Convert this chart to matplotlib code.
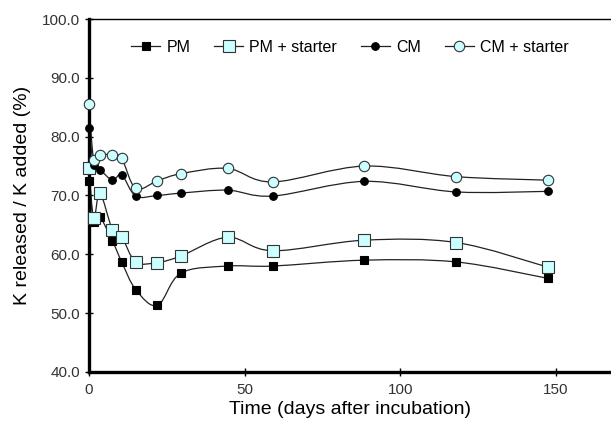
"""K release over incubation time for PM / CM with and without starter."""

import matplotlib

matplotlib.use("Agg")
import matplotlib.pyplot as plt
from matplotlib.lines import Line2D
from matplotlib.patches import PathPatch
from matplotlib.path import Path

plt.rcParams["font.family"] = ["Liberation Sans", "DejaVu Sans"]

DAYS = [0, 1.5, 3.5, 7.5, 10.5, 15, 22, 29.5, 44.5, 59, 88.5, 118, 147.5]
PM = [72.4, 65.5, 66.3, 62.3, 58.7, 54.0, 51.3, 56.8, 58.0, 58.0, 59.0, 58.7, 55.9]
PM_STARTER = [74.6, 66.1, 70.4, 64.2, 63.0, 58.7, 58.6, 59.7, 62.9, 60.6, 62.4, 62.0, 57.8]
CM = [81.4, 75.1, 74.4, 72.6, 73.5, 69.9, 70.0, 70.4, 70.9, 69.9, 72.4, 70.6, 70.7]
CM_STARTER = [85.6, 76.0, 76.9, 76.9, 76.3, 71.2, 72.5, 73.7, 74.6, 72.3, 75.0, 73.2, 72.6]

LIGHT = "#ccffff"
EDGE = "#333333"


def smooth_path(x, y):
    # Catmull-Rom style bezier, like a spreadsheet "smoothed line"
    pts = list(zip(x, y))
    verts = [pts[0]]
    codes = [Path.MOVETO]
    n = len(pts)
    for i in range(n - 1):
        p0 = pts[max(i - 1, 0)]
        p1 = pts[i]
        p2 = pts[i + 1]
        p3 = pts[min(i + 2, n - 1)]
        c1 = (p1[0] + (p2[0] - p0[0]) / 6, p1[1] + (p2[1] - p0[1]) / 6)
        c2 = (p2[0] - (p3[0] - p1[0]) / 6, p2[1] - (p3[1] - p1[1]) / 6)
        verts += [c1, c2, p2]
        codes += [Path.CURVE4] * 3
    return Path(verts, codes)


SERIES = [
    ("PM", PM, dict(marker="s", markersize=6, markerfacecolor="black", markeredgecolor="black")),
    ("PM + starter", PM_STARTER, dict(marker="s", markersize=8, markerfacecolor=LIGHT, markeredgecolor=EDGE)),
    ("CM", CM, dict(marker="o", markersize=5.5, markerfacecolor="black", markeredgecolor="black")),
    ("CM + starter", CM_STARTER, dict(marker="o", markersize=7.5, markerfacecolor=LIGHT, markeredgecolor=EDGE)),
]

fig = plt.figure(figsize=(6.11, 4.28), dpi=100)
ax = fig.add_axes([0.1457, 0.131, 0.8543, 0.8246])

handles = []
for label, values, style in SERIES:
    ax.add_patch(PathPatch(smooth_path(DAYS, values), fill=False, edgecolor="#222222",
                           linewidth=0.9, zorder=2))
    ax.plot(DAYS, values, linestyle="none", markeredgewidth=0.8, zorder=3, clip_on=False, **style)
    handles.append(Line2D([], [], color="#222222", linewidth=0.9, label=label,
                          markeredgewidth=0.8, **style))

ax.set_xlim(0, 167.7)
ax.set_ylim(40, 100)
ax.set_xticks([0, 50, 100, 150])
ax.set_yticks(range(40, 101, 10))
ax.set_yticklabels([f"{v:.1f}" for v in range(40, 101, 10)])
ax.tick_params(direction="inout", length=6, width=1, labelsize=11, labelcolor="#333333")
ax.tick_params(axis="x", pad=5)

ax.spines["left"].set_linewidth(2.4)
ax.spines["bottom"].set_linewidth(2.4)
ax.spines["top"].set_linewidth(1.0)
ax.spines["right"].set_visible(False)

ax.set_xlabel("Time (days after incubation)", fontsize=14, labelpad=3)
ax.set_ylabel("K released / K added (%)", fontsize=14, labelpad=8)

ax.legend(handles=handles, loc="center", bbox_to_anchor=(0.5, 0.92), ncol=4, frameon=False,
          fontsize=11.5, handlelength=1.8, handletextpad=0.4, columnspacing=1.5)

fig.savefig("out.png", dpi=100)
